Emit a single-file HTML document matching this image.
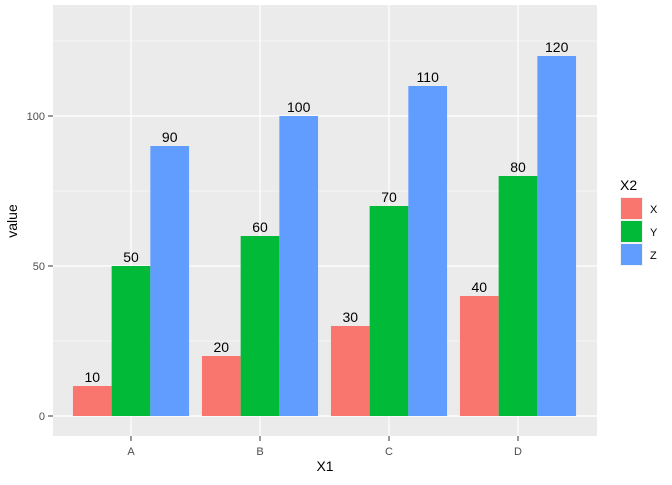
<!DOCTYPE html>
<html><head><meta charset="utf-8"><style>
body{margin:0;background:#fff;}
svg text{font-family:"Liberation Sans",Arial,sans-serif;}
</style></head><body>
<svg id="chart" width="672" height="480" xmlns="http://www.w3.org/2000/svg">
<rect x="0" y="0" width="672" height="480" fill="#fff"/>
<rect x="53" y="5" width="544" height="431" fill="#EBEBEB"/>
<g id="grid"></g>
<g id="bars"></g>
<g id="labels"></g>
<g id="axes"></g>
<text x="325" y="471" font-size="14" text-anchor="middle" fill="#000">X1</text>
<text x="17" y="221" font-size="14" text-anchor="middle" fill="#000" transform="rotate(-90 17 221)">value</text>
<g id="legend">
<text x="620" y="190" font-size="14" fill="#000">X2</text>
</g>
</svg>
<script>
const categories=["A","B","C","D"];
const seriesNames=["X","Y","Z"];
const seriesX=[10,20,30,40];
const seriesY=[50,60,70,80];
const seriesZ=[90,100,110,120];
const yTicks=[0,50,100];
const yMinor=[25,75,125];
const colors=["#F8766D","#00BA38","#619CFF"];
const NS="http://www.w3.org/2000/svg";
const series=[seriesX,seriesY,seriesZ];
function sx(i){return 131+i*129;}
function sy(v){return 416-v*3;}
function mk(tag,attrs,parent){const e=document.createElementNS(NS,tag);for(const k in attrs)e.setAttribute(k,attrs[k]);parent.appendChild(e);return e;}
const grid=document.getElementById('grid'),bars=document.getElementById('bars'),labels=document.getElementById('labels'),axes=document.getElementById('axes'),legend=document.getElementById('legend');
yMinor.forEach(v=>{const l=mk('line',{x1:53,x2:597,y1:sy(v),y2:sy(v),stroke:'#fff','stroke-width':0.6},grid);

});
yTicks.forEach(v=>{const l=mk('line',{x1:53,x2:597,y1:sy(v),y2:sy(v),stroke:'#fff','stroke-width':1.2},grid);


const t=mk('line',{x1:48,x2:53,y1:sy(v),y2:sy(v),stroke:'#333','stroke-width':1},axes);


const tx=mk('text',{x:45,y:sy(v)+4,'font-size':11,'text-anchor':'end',fill:'#4D4D4D'},axes);tx.textContent=v;

});
categories.forEach((c,i)=>{const l=mk('line',{x1:sx(i),x2:sx(i),y1:5,y2:436,stroke:'#fff','stroke-width':1.2},grid);


const t=mk('line',{x1:sx(i),x2:sx(i),y1:436,y2:441,stroke:'#333','stroke-width':1},axes);


const tx=mk('text',{x:sx(i),y:455,'font-size':11,'text-anchor':'middle',fill:'#4D4D4D'},axes);tx.textContent=c;

});
const bw=129*0.9/3;
categories.forEach((c,i)=>{series.forEach((s,j)=>{const x0=sx(i)-129*0.45+j*bw;
const r=mk('rect',{x:x0,y:sy(s[i]),width:bw,height:sy(0)-sy(s[i]),fill:colors[j]},bars);


const t=mk('text',{x:x0+bw/2,y:sy(s[i])-4,'font-size':14,'text-anchor':'middle',fill:'#000'},labels);t.textContent=s[i];

});});
seriesNames.forEach((n,j)=>{const y=197+j*23;
mk('rect',{x:620,y:y,width:23,height:23,fill:'#F2F2F2'},legend);
const k=mk('rect',{x:621,y:y+1,width:21,height:21,fill:colors[j]},legend);


const t=mk('text',{x:650,y:y+16,'font-size':11,fill:'#000'},legend);t.textContent=n;

});
</script>
</body></html>
